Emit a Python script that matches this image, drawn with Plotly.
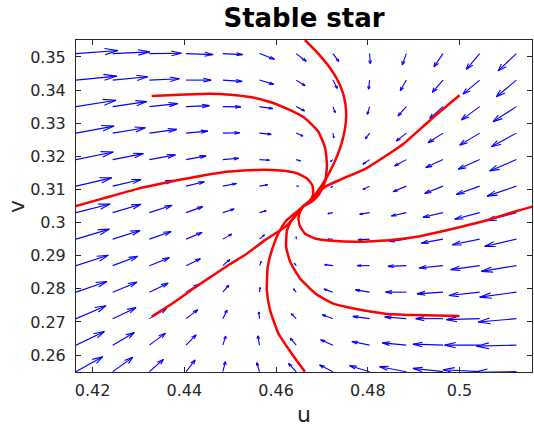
import numpy as np
import plotly.graph_objects as go
import plotly.figure_factory as ff

# ---------------- data ----------------
# quiver grid (u across, v from top row to bottom row)
u_grid = [0.4164, 0.4244, 0.4324, 0.4404, 0.4484, 0.4564, 0.4644,
          0.4724, 0.4804, 0.4884, 0.4964, 0.5044, 0.5124]
v_grid = [0.3510, 0.3430, 0.3350, 0.3270, 0.3190, 0.3110, 0.3030,
          0.2950, 0.2870, 0.2790, 0.2710, 0.2630, 0.2550]

# arrow components (x1e-3, as drawn), one row per v_grid entry
du_rows = [
    [9.16, 8.07, 6.98, 5.89, 4.36, 3.27, 2.18, 1.31, 0.15, -0.87, -1.96, -2.90, -3.99],
    [8.88, 7.64, 6.55, 5.46, 4.21, 3.12, 1.96, 0.94, -0.22, -1.31, -2.33, -3.64, -4.36],
    [8.73, 7.42, 6.18, 5.08, 3.93, 2.90, 1.81, 0.50, -0.50, -1.81, -2.90, -3.99, -5.08],
    [8.29, 7.14, 5.96, 4.73, 3.71, 2.55, 1.46, 0.22, -0.94, -2.18, -3.27, -4.36, -5.46],
    [8.14, 6.70, 5.67, 4.36, 3.49, 2.18, 0.94, -0.55, -1.46, -2.55, -3.77, -4.73, -5.83],
    [7.79, 6.18, 5.24, 3.99, 2.99, 1.81, 0.50, -0.44, -1.46, -2.90, -3.99, -5.08, -6.39],
    [7.42, 6.18, 4.95, 3.64, 2.47, 1.46, 0.11, -1.09, -2.18, -3.27, -4.36, -5.46, -6.55],
    [7.27, 5.96, 4.73, 3.49, 1.96, 1.09, 0.00, -1.09, -2.55, -3.64, -4.73, -5.96, -6.92],
    [7.05, 5.46, 4.36, 3.12, 1.53, 0.37, -0.44, -1.81, -2.68, -3.99, -5.24, -6.33, -7.64],
    [6.70, 5.30, 4.08, 2.77, 1.31, 0.15, -0.59, -1.96, -3.12, -4.52, -5.67, -6.70, -8.01],
    [6.55, 5.08, 3.71, 2.55, 0.94, -0.15, -1.09, -2.33, -3.64, -4.73, -5.96, -7.27, -8.36],
    [6.18, 4.73, 3.49, 2.18, 0.65, -0.37, -1.31, -2.68, -3.86, -5.24, -6.55, -7.64, -8.73],
    [5.83, 4.36, 3.05, 1.96, 0.59, -0.59, -1.68, -2.90, -4.36, -5.83, -6.55, -8.01, -9.16],
]
dv_rows = [
    [0.91, 0.51, 0.09, -0.30, -0.30, -1.72, -2.32, -2.41, -3.02, -3.41, -4.01, -4.74, -5.22],
    [1.21, 1.00, 0.39, 0.00, -0.39, -1.30, -1.72, -2.50, -2.72, -3.23, -3.71, -4.22, -5.04],
    [1.90, 1.51, 0.91, 0.30, -0.09, -0.60, -1.30, -1.81, -2.32, -2.81, -3.53, -4.01, -4.53],
    [2.11, 1.60, 1.12, 0.60, 0.09, -0.39, -0.91, -1.42, -1.72, -2.41, -2.93, -3.62, -4.13],
    [2.32, 1.81, 1.42, 1.12, 0.39, -0.21, -0.39, -0.60, -1.42, -1.90, -2.41, -2.93, -3.41],
    [2.50, 2.02, 1.72, 1.30, 0.81, 0.39, 0.00, -0.45, -1.00, -1.72, -2.20, -2.50, -3.02],
    [2.62, 2.50, 2.20, 1.81, 1.12, 0.60, 0.09, -0.30, -0.51, -1.00, -1.42, -2.02, -2.41],
    [3.02, 2.62, 2.32, 2.02, 1.51, 1.30, 0.75, 0.00, -0.21, -0.69, -1.21, -1.72, -2.20],
    [3.11, 2.81, 2.41, 2.11, 1.81, 1.30, 0.75, 0.30, 0.00, -0.21, -0.69, -1.21, -1.72],
    [3.23, 3.02, 2.72, 2.41, 2.11, 1.42, 1.00, 0.91, 0.69, 0.00, -0.51, -1.00, -1.51],
    [3.92, 3.32, 3.02, 2.72, 2.56, 2.02, 1.51, 1.21, 0.69, 0.51, 0.00, -0.30, -1.00],
    [4.13, 3.83, 3.62, 3.11, 2.72, 2.81, 2.11, 1.60, 1.12, 0.69, 0.30, 0.00, -0.30],
    [4.53, 4.31, 3.71, 3.53, 3.02, 2.72, 2.50, 2.02, 1.81, 1.51, 1.00, 0.60, -0.21],
]

# trajectories
traj_A_u = [0.4329, 0.4390, 0.4454, 0.4500, 0.4543, 0.4587, 0.4631, 0.4663, 0.4692, 0.4707, 0.4711, 0.4707, 0.4694, 0.4679, 0.4660]
traj_A_v = [0.3382, 0.3386, 0.3389, 0.3386, 0.3379, 0.3364, 0.3339, 0.3315, 0.3275, 0.3225, 0.3174, 0.3124, 0.3086, 0.3064, 0.3050]
traj_B_u = [0.4663, 0.4684, 0.4702, 0.4720, 0.4736, 0.4748, 0.4753, 0.4750, 0.4740, 0.4725, 0.4708, 0.4690, 0.4674, 0.4660]
traj_B_v = [0.3551, 0.3522, 0.3494, 0.3462, 0.3425, 0.3381, 0.3330, 0.3280, 0.3226, 0.3175, 0.3130, 0.3093, 0.3066, 0.3050]
traj_C_u = [0.4164, 0.4223, 0.4296, 0.4369, 0.4441, 0.4500, 0.4561, 0.4610, 0.4645, 0.4667, 0.4679, 0.4681, 0.4673, 0.4660]
traj_C_v = [0.3050, 0.3073, 0.3101, 0.3123, 0.3142, 0.3154, 0.3159, 0.3157, 0.3149, 0.3134, 0.3113, 0.3085, 0.3063, 0.3050]
traj_D_u = [0.5000, 0.4936, 0.4878, 0.4838, 0.4796, 0.4743, 0.4707, 0.4685, 0.4672, 0.4660]
traj_D_v = [0.3384, 0.3309, 0.3238, 0.3200, 0.3163, 0.3131, 0.3108, 0.3077, 0.3060, 0.3050]
traj_E_u = [0.5164, 0.5118, 0.5060, 0.5009, 0.4958, 0.4914, 0.4863, 0.4827, 0.4780, 0.4722, 0.4685, 0.4663, 0.4652, 0.4649, 0.4654, 0.4660]
traj_E_v = [0.3050, 0.3032, 0.3007, 0.2989, 0.2972, 0.2959, 0.2949, 0.2945, 0.2942, 0.2945, 0.2952, 0.2967, 0.2990, 0.3015, 0.3037, 0.3050]
traj_F_u = [0.5000, 0.4900, 0.4838, 0.4775, 0.4722, 0.4685, 0.4652, 0.4631, 0.4622, 0.4624, 0.4634, 0.4648, 0.4660]
traj_F_v = [0.2718, 0.2721, 0.2725, 0.2739, 0.2757, 0.2787, 0.2832, 0.2881, 0.2927, 0.2977, 0.3007, 0.3032, 0.3050]
traj_G_u = [0.4663, 0.4634, 0.4605, 0.4587, 0.4580, 0.4582, 0.4591, 0.4605, 0.4623, 0.4645, 0.4660]
traj_G_v = [0.2550, 0.2605, 0.2666, 0.2736, 0.2796, 0.2866, 0.2917, 0.2967, 0.3007, 0.3032, 0.3050]
traj_H_u = [0.4329, 0.4369, 0.4420, 0.4463, 0.4500, 0.4532, 0.4576, 0.4620, 0.4644, 0.4660]
traj_H_v = [0.2716, 0.2751, 0.2801, 0.2841, 0.2875, 0.2902, 0.2947, 0.2987, 0.3022, 0.3050]

x_ticks = [0.42, 0.44, 0.46, 0.48, 0.50]
x_tick_labels = ["0.42", "0.44", "0.46", "0.48", "0.5"]
y_ticks = [0.26, 0.27, 0.28, 0.29, 0.30, 0.31, 0.32, 0.33, 0.34, 0.35]
y_tick_labels = ["0.26", "0.27", "0.28", "0.29", "0.3", "0.31", "0.32", "0.33", "0.34", "0.35"]

title_text = "Stable star"
x_label = "u"
y_label = "v"

# ---------------- figure ----------------
X, Y = np.meshgrid(u_grid, v_grid)
U = np.array(du_rows)
V = np.array(dv_rows)

fig = ff.create_quiver(X.flatten(), Y.flatten(), U.flatten(), V.flatten(),
                       scale=1e-3, arrow_scale=0.33, angle=np.pi / 10,
                       line=dict(color="#0000ff", width=1.1),
                       hoverinfo="skip", showlegend=False)

trajs = [(traj_A_u, traj_A_v), (traj_B_u, traj_B_v), (traj_C_u, traj_C_v),
         (traj_D_u, traj_D_v), (traj_E_u, traj_E_v), (traj_F_u, traj_F_v),
         (traj_G_u, traj_G_v), (traj_H_u, traj_H_v)]
for tu, tv in trajs:
    fig.add_trace(go.Scatter(x=tu, y=tv, mode="lines",
                             line=dict(color="#ff0000", width=2.5, shape="spline", smoothing=0.5),
                             showlegend=False, hoverinfo="skip"))

font_family = "DejaVu Sans, Arial, sans-serif"
axis_common = dict(showgrid=False, zeroline=False, showline=True, linecolor="#262626",
                   linewidth=1, mirror="ticks", ticks="inside", ticklen=5,
                   tickcolor="#262626", tickwidth=1, automargin=False,
                   tickfont=dict(family=font_family, size=16, color="#262626"))

fig.update_layout(
    width=534, height=428,
    margin=dict(l=76, r=2, t=40, b=56, autoexpand=False),
    paper_bgcolor="white", plot_bgcolor="white",
    showlegend=False,
    title=dict(text="<b>" + title_text + "</b>", x=0.5, xref="paper", y=1 - 18 / 428,
               yref="container", xanchor="center", yanchor="middle",
               font=dict(family=font_family, size=26, color="black")),
    xaxis=dict(range=[0.4164, 0.5158], tickvals=x_ticks, ticktext=x_tick_labels,
               ticklabelstandoff=4, **axis_common),
    yaxis=dict(range=[0.2549, 0.3551], tickvals=y_ticks, ticktext=y_tick_labels,
               ticklabelstandoff=6, **axis_common),
    annotations=[
        dict(text=x_label, x=0.5, y=-0.1295, xref="paper", yref="paper",
             xanchor="center", yanchor="middle", showarrow=False,
             font=dict(family=font_family, size=22, color="#262626")),
        dict(text=y_label, x=-0.1316, y=0.5, xref="paper", yref="paper",
             xanchor="center", yanchor="middle", showarrow=False, textangle=-90,
             font=dict(family=font_family, size=22, color="#262626")),
    ],
)

# remove the default page margin so the 534x428 figure fills the window exactly
fig.write_html("out.html",
               config={"displayModeBar": False},
               post_script="document.body.style.margin='0px';document.body.style.overflow='hidden';")
